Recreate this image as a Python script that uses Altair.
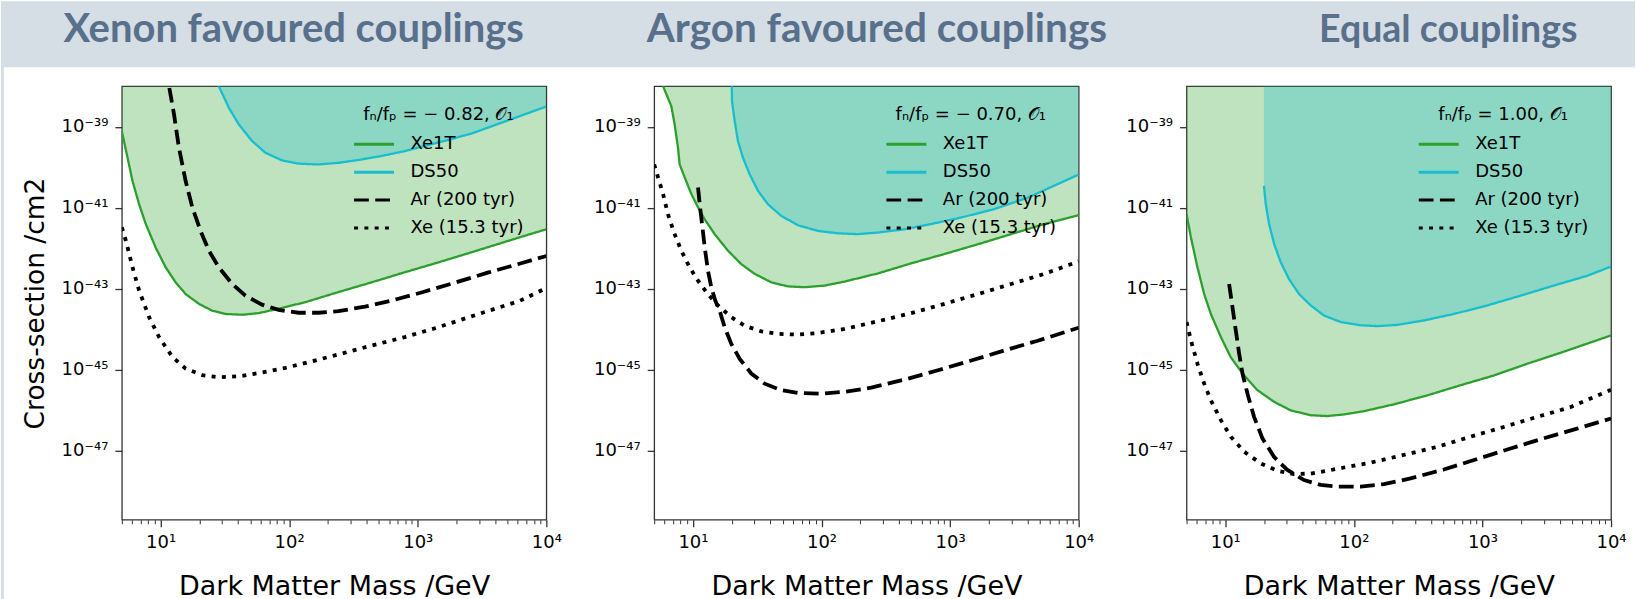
import altair as alt
import pandas as pd

# ---------------------------------------------------------------------------
# Exclusion curves, read as log10(mass / GeV) and log10(cross-section / cm^2)
# ---------------------------------------------------------------------------

# Xenon favoured couplings (fn/fp = -0.82)
xen_xe1t_lm = [0.699, 0.743, 0.782, 0.833, 0.885, 0.962, 1.040, 1.117, 1.195, 1.298, 1.402, 1.505,
               1.634, 1.763, 1.918, 2.125, 2.383, 2.641, 2.900, 3.158, 3.416, 3.791, 4.0]
xen_xe1t_ls = [-39.11, -39.76, -40.34, -40.91, -41.40, -41.98, -42.47, -42.84, -43.13, -43.37, -43.54, -43.62,
               -43.64, -43.60, -43.49, -43.33, -43.08, -42.84, -42.59, -42.35, -42.10, -41.73, -41.53]
xen_ds50_lm = [1.301, 1.400, 1.453, 1.531, 1.608, 1.711, 1.815, 1.944, 2.073, 2.228, 2.383, 2.538,
               2.719, 2.900, 3.158, 3.416, 3.791, 4.0]
xen_ds50_ls = [-36.60, -37.60, -38.00, -38.53, -38.94, -39.35, -39.64, -39.83, -39.91, -39.93, -39.89, -39.82,
               -39.72, -39.60, -39.39, -39.17, -38.74, -38.50]
xen_ar_lm = [1.045, 1.066, 1.105, 1.143, 1.195, 1.247, 1.311, 1.376, 1.453, 1.557, 1.660, 1.789, 1.918,
             2.073, 2.228, 2.383, 2.590, 2.796, 3.029, 3.287, 3.545, 3.791, 4.0]
xen_ar_ls = [-37.00, -38.00, -38.70, -39.52, -40.34, -40.99, -41.57, -42.06, -42.47, -42.88, -43.17, -43.39, -43.52,
             -43.59, -43.59, -43.55, -43.44, -43.29, -43.09, -42.85, -42.60, -42.38, -42.19]
xen_xe_lm = [0.699, 0.730, 0.782, 0.833, 0.911, 0.988, 1.092, 1.195, 1.324, 1.453, 1.608, 1.763, 1.970,
             2.176, 2.383, 2.641, 2.900, 3.158, 3.416, 3.791, 4.0]
xen_xe_ls = [-41.48, -41.81, -42.47, -43.04, -43.70, -44.19, -44.68, -44.97, -45.13, -45.18, -45.16, -45.08, -44.95,
             -44.79, -44.62, -44.40, -44.19, -43.95, -43.68, -43.30, -42.98]

# Argon favoured couplings (fn/fp = -0.70)
arg_xe1t_lm = [0.750, 0.768, 0.832, 0.858, 0.884, 0.897, 0.936, 0.988, 1.040, 1.091, 1.169, 1.273, 1.376,
               1.480, 1.610, 1.739, 1.869, 2.024, 2.180, 2.439, 2.698, 2.957, 3.216, 3.475, 3.734, 4.0]
arg_xe1t_ls = [-37.60, -38.00, -38.49, -38.94, -39.52, -39.93, -40.25, -40.66, -40.99, -41.28, -41.65, -42.06, -42.39,
               -42.63, -42.84, -42.94, -42.96, -42.92, -42.82, -42.62, -42.37, -42.14, -41.90, -41.65, -41.40, -41.18]
arg_ds50_lm = [1.301, 1.304, 1.325, 1.350, 1.389, 1.441, 1.506, 1.583, 1.687, 1.817, 1.972, 2.128, 2.283,
               2.439, 2.646, 2.853, 3.086, 3.345, 3.604, 4.0]
arg_ds50_ls = [-37.60, -38.37, -38.86, -39.35, -39.76, -40.17, -40.58, -40.91, -41.20, -41.43, -41.57, -41.63, -41.65,
               -41.61, -41.53, -41.40, -41.24, -41.03, -40.75, -40.18]
arg_ar_lm = [1.040, 1.053, 1.071, 1.092, 1.117, 1.143, 1.174, 1.208, 1.247, 1.299, 1.364, 1.454, 1.558,
             1.687, 1.817, 1.998, 2.180, 2.387, 2.646, 2.905, 3.164, 3.423, 3.682, 4.0]
arg_ar_ls = [-40.50, -40.91, -41.40, -41.98, -42.55, -42.96, -43.29, -43.54, -43.95, -44.36, -44.73, -45.09, -45.34,
             -45.50, -45.57, -45.59, -45.54, -45.44, -45.24, -45.01, -44.77, -44.52, -44.28, -43.96]
arg_xe_lm = [0.699, 0.729, 0.768, 0.806, 0.858, 0.910, 0.975, 1.040, 1.117, 1.195, 1.299, 1.402, 1.532,
             1.661, 1.817, 1.972, 2.180, 2.439, 2.698, 2.957, 3.216, 3.475, 3.734, 4.0]
arg_xe_ls = [-39.93, -40.25, -40.66, -41.16, -41.65, -42.06, -42.47, -42.80, -43.13, -43.41, -43.70, -43.91, -44.05,
             -44.11, -44.13, -44.09, -43.99, -43.80, -43.60, -43.37, -43.13, -42.88, -42.63, -42.32]

# Equal couplings (fn/fp = 1.00)
eq_xe1t_lm = [0.699, 0.733, 0.784, 0.836, 0.888, 0.966, 1.043, 1.147, 1.250, 1.380, 1.509, 1.665, 1.794,
              1.923, 2.079, 2.312, 2.571, 2.829, 3.088, 3.347, 3.606, 4.0]
eq_xe1t_ls = [-41.16, -41.73, -42.47, -43.13, -43.62, -44.19, -44.69, -45.14, -45.50, -45.79, -46.00, -46.12, -46.14,
              -46.10, -46.02, -45.85, -45.63, -45.38, -45.14, -44.85, -44.58, -44.15]
eq_ds50_lm = [1.301, 1.315, 1.341, 1.380, 1.432, 1.496, 1.574, 1.665, 1.768, 1.898, 2.053, 2.182, 2.338,
              2.545, 2.778, 3.037, 3.295, 3.554, 3.813, 4.0]
eq_ds50_ls = [-40.46, -40.91, -41.40, -41.89, -42.35, -42.76, -43.13, -43.41, -43.66, -43.82, -43.90, -43.92, -43.89,
              -43.78, -43.62, -43.41, -43.17, -42.92, -42.68, -42.45]
eq_ar_lm = [1.030, 1.056, 1.082, 1.108, 1.134, 1.173, 1.224, 1.289, 1.380, 1.483, 1.613, 1.742, 1.872,
            2.053, 2.234, 2.441, 2.700, 2.959, 3.218, 3.477, 3.736, 4.0]
eq_ar_ls = [-42.88, -43.45, -44.03, -44.60, -45.09, -45.59, -46.16, -46.69, -47.15, -47.47, -47.72, -47.84, -47.88,
            -47.88, -47.82, -47.68, -47.46, -47.20, -46.94, -46.69, -46.45, -46.20]
eq_xe_lm = [0.699, 0.733, 0.784, 0.836, 0.888, 0.966, 1.043, 1.147, 1.276, 1.406, 1.535, 1.665, 1.794,
            1.923, 2.130, 2.389, 2.648, 2.907, 3.166, 3.426, 3.684, 4.0]
eq_xe_ls = [-43.82, -44.27, -44.85, -45.34, -45.75, -46.24, -46.65, -47.02, -47.31, -47.49, -47.57, -47.56, -47.49,
            -47.41, -47.29, -47.10, -46.90, -46.65, -46.41, -46.16, -45.92, -45.49]

panel_titles = ["Xenon favoured couplings", "Argon favoured couplings", "Equal couplings"]
ratio_titles = ["fₙ/fₚ = − 0.82, 𝒪₁", "fₙ/fₚ = − 0.70, 𝒪₁", "fₙ/fₚ = 1.00, 𝒪₁"]
series_names = ["Xe1T", "DS50", "Ar (200 tyr)", "Xe (15.3 tyr)"]

panel_curves = [
    [(xen_xe1t_lm, xen_xe1t_ls), (xen_ds50_lm, xen_ds50_ls), (xen_ar_lm, xen_ar_ls), (xen_xe_lm, xen_xe_ls)],
    [(arg_xe1t_lm, arg_xe1t_ls), (arg_ds50_lm, arg_ds50_ls), (arg_ar_lm, arg_ar_ls), (arg_xe_lm, arg_xe_ls)],
    [(eq_xe1t_lm, eq_xe1t_ls), (eq_ds50_lm, eq_ds50_ls), (eq_ar_lm, eq_ar_ls), (eq_xe_lm, eq_xe_ls)],
]

# ---------------------------------------------------------------------------
# Styling
# ---------------------------------------------------------------------------
FONT = "DejaVu Sans"
GREEN = "#2ca02c"
CYAN = "#17becf"
SERIES_COLORS = [GREEN, CYAN, "#000000", "#000000"]
SERIES_DASHES = [[1, 0], [1, 0], [14.8, 6.4], [4, 6.3]]
BAND_COLOR = "#d5dde5"
TITLE_COLOR = "#58708b"

MASS_DOMAIN = [5, 1e4]
SIGMA_DOMAIN = [2e-49, 1e-38]
MASS_MAJOR = [10, 100, 1000, 10000]
MASS_MINOR = [5, 6, 7, 8, 9, 20, 30, 40, 50, 60, 70, 80, 90, 200, 300, 400, 500, 600, 700, 800, 900,
              2000, 3000, 4000, 5000, 6000, 7000, 8000, 9000]
SIGMA_MAJOR = [1e-47, 1e-45, 1e-43, 1e-41, 1e-39]

PANEL_W, PANEL_H = 425, 434
PANEL_GAP = 108
PLOT_LEFT = 121          # left edge of the first plot area on the page
PAGE_W, PAGE_H = 1636, 599
BAND_H = 66
TITLE_CENTERS = [293, 877, 1449]
TITLE_SIZES = [40, 40.5, 37.5]
TITLE_BASELINE = 40.5

SUP = str.maketrans("0123456789-", "⁰¹²³⁴⁵⁶⁷⁸⁹⁻")


def power_label_expr(exponents):
    """Vega expression printing a tick value as 10 with a superscript exponent."""
    expr = "''"
    for e in exponents:
        expr = f"(round(log(datum.value) / LN10) == {e}) ? '10{str(e).translate(SUP)}' : {expr}"
    return expr


def curve_frame(curves):
    parts = []
    for name, (lm, ls) in zip(series_names, curves):
        parts.append(pd.DataFrame({
            "series": name,
            "mass": [10 ** v for v in lm],
            "sigma": [10 ** v for v in ls],
        }))
    return pd.concat(parts, ignore_index=True)


def make_panel(curves, legend_title, y_title):
    base = alt.Chart(curve_frame(curves))
    xs = alt.Scale(type="log", domain=MASS_DOMAIN, nice=False)
    ys = alt.Scale(type="log", domain=SIGMA_DOMAIN, nice=False)

    major_axis = alt.Axis(values=MASS_MAJOR, labelExpr=power_label_expr([1, 2, 3, 4]),
                          tickSize=7, labelPadding=7, title="Dark Matter Mass /GeV",
                          titleFontSize=27, titlePadding=22, orient="bottom")
    minor_axis = alt.Axis(values=MASS_MINOR, labels=False, tickSize=4, tickWidth=1,
                          title=None, orient="bottom")
    y_kwargs = dict(values=SIGMA_MAJOR, labelExpr=power_label_expr([-47, -45, -43, -41, -39]),
                    tickSize=7, labelPadding=7)
    if y_title:
        y_axis = alt.Axis(title=y_title, titleFontSize=26.5, titlePadding=12, **y_kwargs)
    else:
        y_axis = alt.Axis(title=None, **y_kwargs)
    y_enc = alt.Y("sigma:Q", scale=ys, axis=y_axis)

    legend = alt.Legend(
        title=legend_title, orient="none", legendX=231, legendY=20,
        titleAnchor="middle", titleAlign="center", titleFont=FONT, titleFontSize=18,
        titleFontWeight="normal", titleColor="black", titlePadding=10,
        labelFont=FONT, labelFontSize=18, labelColor="black", labelOffset=15,
        symbolType="stroke", symbolSize=1600, symbolStrokeWidth=3, clipHeight=20,
        rowPadding=8, padding=0,
    )
    color = alt.Color("series:N", scale=alt.Scale(domain=series_names, range=SERIES_COLORS),
                      legend=legend)
    dash = alt.StrokeDash("series:N", scale=alt.Scale(domain=series_names, range=SERIES_DASHES),
                          legend=legend)

    xe1t_fill = base.transform_filter(alt.datum.series == "Xe1T").mark_area(
        color=GREEN, opacity=0.3, clip=True
    ).encode(x=alt.X("mass:Q", scale=xs, axis=minor_axis), y=y_enc, y2=alt.datum(SIGMA_DOMAIN[1]))

    ds50_fill = base.transform_filter(alt.datum.series == "DS50").mark_area(
        color=CYAN, opacity=0.3, clip=True
    ).encode(x=alt.X("mass:Q", scale=xs, axis=None), y=y_enc, y2=alt.datum(SIGMA_DOMAIN[1]))

    measured = base.transform_filter(
        alt.FieldOneOfPredicate(field="series", oneOf=["Xe1T", "DS50"])
    ).mark_line(clip=True, strokeWidth=2.3, strokeCap="butt").encode(
        x=alt.X("mass:Q", scale=xs, axis=major_axis), y=y_enc, color=color, strokeDash=dash)

    projected = base.transform_filter(
        alt.FieldOneOfPredicate(field="series", oneOf=["Ar (200 tyr)", "Xe (15.3 tyr)"])
    ).mark_line(clip=True, strokeWidth=3.8, strokeCap="butt").encode(
        x=alt.X("mass:Q", scale=xs, axis=None), y=y_enc, color=color, strokeDash=dash)

    return alt.layer(xe1t_fill, ds50_fill, measured, projected).resolve_axis(
        x="independent"
    ).properties(width=PANEL_W, height=PANEL_H)


panels = [
    make_panel(panel_curves[i], ratio_titles[i], "Cross-section /cm2" if i == 0 else None)
    for i in range(3)
]

# Header band with the three coupling titles
one_row = pd.DataFrame({"k": [0]})
band = alt.Chart(one_row).mark_rect(color=BAND_COLOR).encode(
    x=alt.value(-PLOT_LEFT), x2=alt.value(PAGE_W - PLOT_LEFT), y=alt.value(0), y2=alt.value(BAND_H))
edge = alt.Chart(one_row).mark_rect(color=BAND_COLOR).encode(
    x=alt.value(-PLOT_LEFT), x2=alt.value(-PLOT_LEFT + 3), y=alt.value(0), y2=alt.value(PAGE_H))
titles = [
    alt.Chart(pd.DataFrame({"title": [t]})).mark_text(
        font="Lato", fontWeight="bold", fontSize=size, color=TITLE_COLOR,
        align="center", baseline="alphabetic"
    ).encode(text="title:N", x=alt.value(cx - PLOT_LEFT), y=alt.value(TITLE_BASELINE))
    for t, cx, size in zip(panel_titles, TITLE_CENTERS, TITLE_SIZES)
]
header = alt.layer(band, edge, *titles).properties(
    width=PAGE_W - PLOT_LEFT, height=BAND_H, view=alt.ViewBackground(stroke="transparent"))

row = alt.hconcat(*panels, spacing=PANEL_GAP, bounds="flush").resolve_scale(
    color="independent", strokeDash="independent")

chart = alt.vconcat(header, row, spacing=85 - BAND_H, bounds="flush").properties(
    padding=0, background="white"
).configure_view(
    stroke="#333333", strokeWidth=1.3
).configure_axis(
    labelFont=FONT, labelFontSize=18, labelColor="black",
    titleFont=FONT, titleFontSize=26, titleFontWeight="normal", titleColor="black",
    tickColor="#333333", tickWidth=1.3, domain=False, grid=False,
    labelFlush=False, labelOverlap=False,
)

chart.save("out.html", embed_options={"renderer": "svg", "actions": False})
